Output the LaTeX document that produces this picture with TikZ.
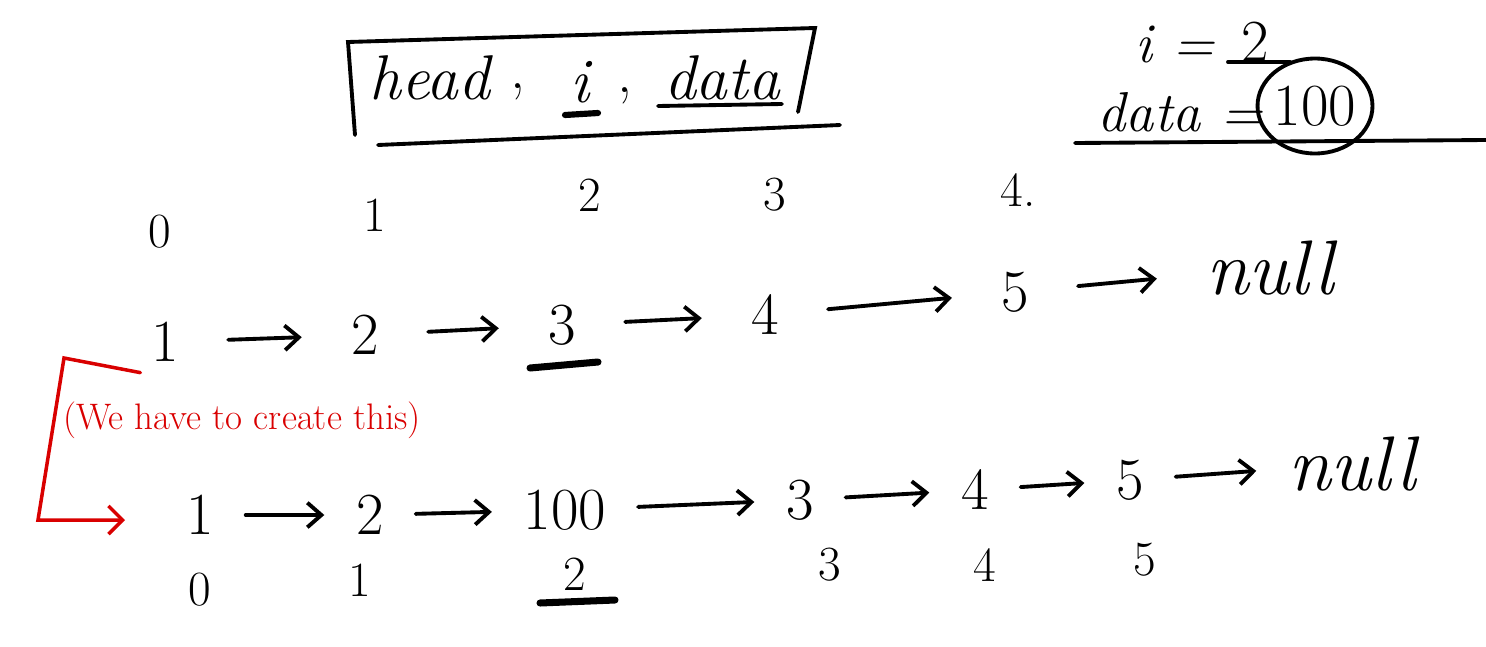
\documentclass[tikz,border=0pt]{standalone}
\usepackage{tikz}
\usetikzlibrary{arrows.meta}

\begin{document}
\begin{tikzpicture}[x=0.02cm, y=-0.02cm,
  pen/.style={line width=2.2pt, line cap=round},
  ink/.style={font=\fontsize{34}{36}\selectfont, inner sep=6pt},
  word/.style={font=\itshape\fontsize{44}{46}\selectfont, inner sep=6pt},
  idx/.style={font=\fontsize{28}{30}\selectfont, inner sep=4pt},
  link/.style={pen, -{Straight Barb[length=8pt,width=14pt]}, shorten <=12pt, shorten >=12pt},
  redpen/.style={pen, red!85!black, line width=2pt}]

  \useasboundingbox (0,0) rectangle (1486,646);

  % signature box
  \node[ink, font=\itshape\fontsize{36}{38}\selectfont] (head) at (430,78) {head};
  \node[ink] (comma1) at (518,92) {,};
  \node[ink, font=\itshape\fontsize{36}{38}\selectfont] (iarg) at (580,82) {i};
  \node[ink] (comma2) at (625,96) {,};
  \node[ink, font=\itshape\fontsize{36}{38}\selectfont] (darg) at (722,78) {data};
  \draw[pen, line width=3.5pt] (565,115) -- (598,113);
  \draw[pen] (658,106) -- (782,104);
  \draw[pen] (355,135) -- (348,42) -- (815,28) -- (798,112);
  \draw[pen] (378,145) -- (840,125);

  % given values
  \node[ink, font=\itshape\fontsize{32}{34}\selectfont] (ival) at (1175,45) {i =};
  \node[ink] (itwo) at (1255,42) {2};
  \draw[pen] (1228,62) -- (1290,62);
  \node[ink, font=\itshape\fontsize{32}{34}\selectfont] (deq) at (1180,112) {data =};
  \node[ink] (hundred) at (1315,106) {100};
  \draw[pen] (hundred) ellipse [x radius=1.15cm, y radius=0.95cm];
  \draw[pen] (1075,143) -- (1486,140);

  % indices of the old list
  \foreach \i/\x/\y/\t in {0/160/232/0, 1/375/215/1, 2/590/195/2, 3/775/195/3, 4/1018/190/4.}
    \node[idx] (top\i) at (\x,\y) {\t};

  % old list
  \foreach \i/\x/\y in {1/165/342, 2/365/335, 3/562/325, 4/765/315, 5/1015/292}
    \node[ink] (a\i) at (\x,\y) {\i};
  \node[word] (anull) at (1270,268) {null};
  \draw[pen, line width=4pt] (530,368) -- (598,362);
  \foreach \p/\q in {a1/a2, a2/a3, a3/a4, a4/a5, a5/anull}
    \draw[link, shorten <=22pt, shorten >=22pt] (\p) -- (\q);

  % new list
  \foreach \i/\x/\y/\t in {1/200/515/1, 2/370/515/2, 3/565/510/100, 4/800/500/3, 5/975/490/4, 6/1130/480/5}
    \node[ink] (b\i) at (\x,\y) {\t};
  \node[word] (bnull) at (1352,464) {null};
  \foreach \p/\q in {b1/b2, b2/b3, b3/b4, b4/b5, b5/b6, b6/bnull}
    \draw[link] (\p) -- (\q);

  % indices of the new list
  \foreach \i/\x/\y in {0/200/590, 1/360/580, 2/575/574, 3/830/565, 4/985/565, 5/1145/560}
    \node[idx] (bot\i) at (\x,\y) {\i};
  \draw[pen, line width=4pt] (540,603) -- (615,600);

  % note in red
  \node[text=red!85!black, font=\fontsize{21}{23}\selectfont] (note) at (242,420) {(We have to create this)};
  \coordinate (redtop) at (64,358);
  \coordinate (redlow) at (38,520);
  \coordinate (redtip) at (125,520);
  \draw[redpen, -{Straight Barb[length=8pt,width=16pt]}] (a1.south west) -- (redtop) -- (redlow) -- (redtip);

\end{tikzpicture}
\end{document}
